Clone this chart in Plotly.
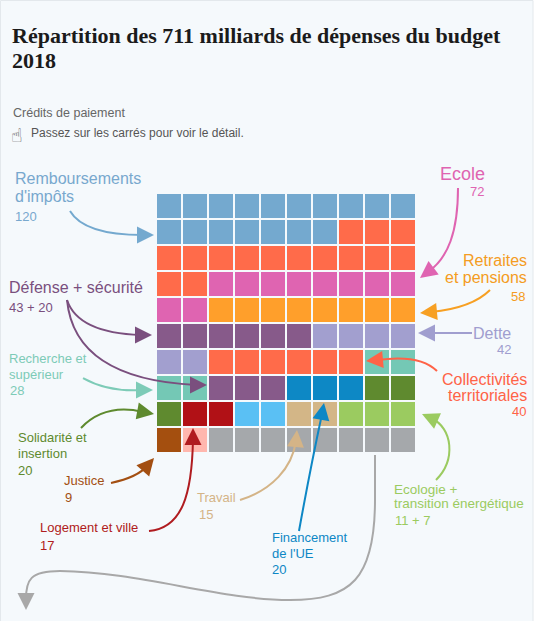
import re
import plotly.graph_objects as go

W, H = 538, 621

# ---------------- data ----------------
groups = ["Remboursements d'impôts", "Prélèvements", "Ecole", "Retraites et pensions",
          "Défense", "Dette", "Collectivités territoriales", "Recherche et supérieur",
          "Sécurité", "Financement de l'UE", "Solidarité et insertion", "Logement et ville",
          "Autres (bleu clair)", "Travail", "Ecologie + transition énergétique", "Justice",
          "Logement (rose)", "Autres"]
cell_counts = [17, 15, 10, 8, 6, 6, 6, 4, 3, 3, 3, 2, 2, 2, 3, 1, 1, 8]
group_colors = ["#74A9CF", "#FF6B4A", "#DF64B1", "#FF9F2B", "#875A8A", "#A29FCF", "#FF6B4A",
                "#74C8B5", "#875A8A", "#0D88C5", "#5F8A2F", "#B11116", "#5AC0F4", "#D3B687",
                "#9BCB60", "#A44F0F", "#FFB7AE", "#A5A8AB"]
n_cols = 10
n_rows = 10

# ---------------- build grid ----------------
seq = []
for i, c in enumerate(cell_counts):
    seq += [i] * c
grid = [seq[r * n_cols:(r + 1) * n_cols] for r in range(n_rows)]
hover = [[groups[v] for v in row] for row in grid]

n = len(groups)
cscale = []
for i, c in enumerate(group_colors):
    cscale.append([i / n, c])
    cscale.append([(i + 1) / n, c])

fig = go.Figure()
fig.add_trace(go.Heatmap(
    z=grid, x=list(range(n_cols)), y=list(range(n_rows)),
    colorscale=cscale, zmin=-0.5, zmax=n - 0.5, showscale=False,
    xgap=2, ygap=2, text=hover, hoverinfo="text"))


def px(x):
    return x / W


def py(y):
    return 1 - y / H


def conv_path(p):
    def rep(m):
        return "%.5f,%.5f" % (px(float(m.group(1))), py(float(m.group(2))))
    return re.sub(r"(-?[\d.]+),(-?[\d.]+)", rep, p)


shapes = []
annotations = []

# container box
shapes.append(dict(type="rect", xref="paper", yref="paper", x0=px(0.5), x1=px(533),
                   y0=py(625), y1=py(0.5), fillcolor="#F5F9FC",
                   line=dict(color="#E3E8EC", width=1), layer="below"))

FONT = "Liberation Sans, Arial, sans-serif"


def txt(s, x, y, size, color, anchor="left", family=FONT):
    annotations.append(dict(text=s, x=px(x), y=py(y), xref="paper", yref="paper",
                            xanchor=anchor, yanchor="middle", showarrow=False,
                            font=dict(size=size, color=color, family=family)))


def arrow(path, tip, color, width=2):
    shapes.append(dict(type="path", xref="paper", yref="paper", path=conv_path(path),
                       line=dict(color=color, width=width)))
    tail = re.findall(r"(-?[\d.]+),(-?[\d.]+)", path)[-1]
    tx, ty = float(tail[0]), float(tail[1])
    annotations.append(dict(text="", x=px(tip[0]), y=py(tip[1]), xref="paper", yref="paper",
                            ax=tx - tip[0], ay=ty - tip[1], axref="pixel", ayref="pixel",
                            showarrow=True, arrowhead=2, arrowsize=1.7, arrowwidth=width,
                            arrowcolor=color, standoff=0, startstandoff=0))


# title & subtitle
SERIF = "Liberation Serif, Georgia, serif"
txt("<b>Répartition des 711 milliards de dépenses du budget</b>", 10, 35, 22, "#1B1B1B",
    family=SERIF)
txt("<b>2018</b>", 10, 61, 22, "#1B1B1B", family=SERIF)
txt("Crédits de paiement", 11, 113, 12.5, "#666666")
txt("☝", 9, 135, 19, "#555555", family="DejaVu Sans")
txt("Passez sur les carrés pour voir le détail.", 29, 133, 12, "#555555")

# labels
c = "#78A8CE"
txt("Remboursements", 13, 179, 16, c)
txt("d'impôts", 13, 196, 16, c)
txt("120", 13, 216, 13, c)
arrow("M70,211 Q84,235 143,235", (154, 235), "#74A9CF")

c = "#7A4F7E"
txt("Défense + sécurité", 7, 287, 16, c)
txt("43 + 20", 7, 307, 13, c)
arrow("M67,300 Q78,333 141,335", (152, 335), c)
arrow("M67,300 C72,352 115,381 196,385", (207, 385), c)

c = "#7DCBB7"
txt("Recherche et", 7, 358, 13, c)
txt("supérieur", 7, 374, 13, c)
txt("28", 8, 390, 13, c)
arrow("M83,378 Q108,392 142,390", (153, 390), c)

c = "#DF64B1"
txt("Ecole", 487, 174, 18, c, anchor="right")
txt("72", 486, 191, 13, c, anchor="right")
arrow("M458,188 C458,232 448,258 428,272", (420, 278), c)

c = "#F49C22"
txt("Retraites", 529, 260, 16, c, anchor="right")
txt("et pensions", 529, 277, 16, c, anchor="right")
txt("58", 527, 296, 13, c, anchor="right")
arrow("M490,290 Q472,308 431,312", (420, 313), "#F7A023")

c = "#A09ECF"
txt("Dette", 513, 333, 16, c, anchor="right")
txt("42", 513, 350, 13, c, anchor="right")
arrow("M472,333 L429,333", (418, 333), c)

c = "#FF6347"
txt("Collectivités", 529, 379, 16, c, anchor="right")
txt("territoriales", 529, 396, 16, c, anchor="right")
txt("40", 528, 412, 13, c, anchor="right")
arrow("M437,371 C425,359 405,356 377,360", (366, 361), c)

c = "#5E8A2E"
txt("Solidarité et", 16, 437, 13, c)
txt("insertion", 16, 453, 13, c)
txt("20", 16, 470, 13, c)
arrow("M81,428 Q105,403 143,412", (154, 414), c)

c = "#A34F12"
txt("Justice", 62, 480, 13, c)
txt("9", 63, 497, 13, c)
arrow("M111,483 Q138,477 147,466", (154, 458), c)

c = "#B01C20"
txt("Logement et ville", 38, 527, 13, c)
txt("17", 38, 545, 13, c)
arrow("M149,531 C182,528 192,495 193,439", (193, 428), c)

c = "#D4B487"
txt("Travail", 195, 497, 13, c)
txt("15", 197, 514, 13, c)
arrow("M240,500 C272,490 292,468 296,441", (297, 430), c)

c = "#0D87C5"
txt("Financement", 270, 537, 13, c)
txt("de l'UE", 270, 553, 13, c)
txt("20", 270, 569, 13, c)
arrow("M299,531 Q310,470 322,414", (324, 403), c)

c = "#9BCB60"
txt("Ecologie +", 392, 489, 13.5, c)
txt("transition énergétique", 392, 503, 13.5, c)
txt("11 + 7", 393, 520, 13, c)
arrow("M436,480 C456,460 453,428 431,418", (422, 414), c)

arrow("M375,455 L375,500 C375,580 350,600 290,600 C220,600 140,572 60,571 C30,571 26,580 26,599",
      (26, 610), "#A8A8A8")

fig.update_layout(
    width=W, height=H, margin=dict(l=0, r=0, t=0, b=0),
    paper_bgcolor="#FFFFFF", plot_bgcolor="rgba(0,0,0,0)",
    xaxis=dict(domain=[156 / W, 416 / W], range=[-0.5, n_cols - 0.5], visible=False,
               fixedrange=True),
    yaxis=dict(domain=[1 - 453 / H, 1 - 193 / H], range=[n_rows - 0.5, -0.5], visible=False,
               fixedrange=True),
    shapes=shapes, annotations=annotations, showlegend=False,
)
fig.write_html("out.html", config={"displayModeBar": False},
               post_script="document.body.style.margin='0';document.body.style.overflow='hidden';")
